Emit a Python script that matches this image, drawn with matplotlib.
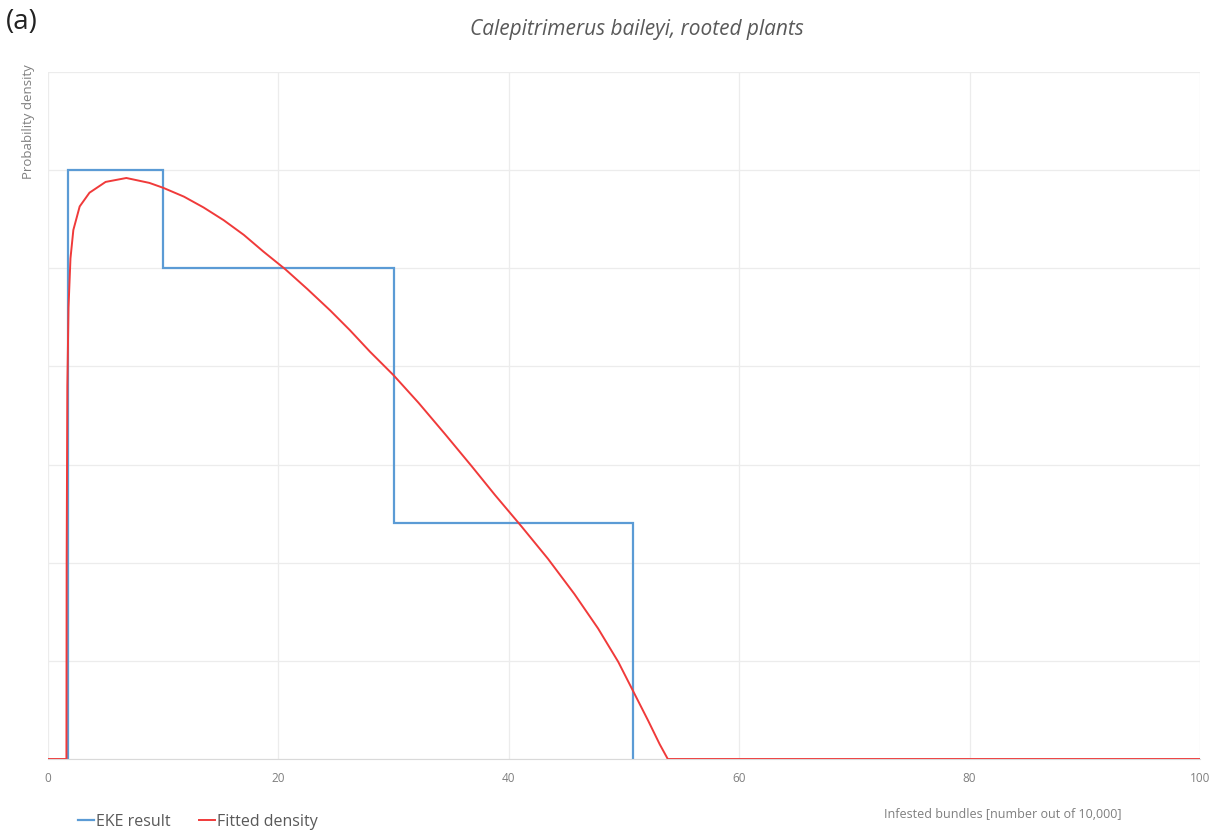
import numpy as np
import matplotlib
matplotlib.use("Agg")
import matplotlib.pyplot as plt

plt.rcParams['font.family'] = ['Open Sans', 'DejaVu Sans']

# EKE result (histogram bins)
eke_edges = [1.7, 10, 30, 50.8]
eke_heights = [6.0, 5.0, 2.4]

# Fitted density
fit_x = [0, 1.6, 1.62, 1.68, 1.78, 1.95, 2.2, 2.75, 3.6, 5.0, 6.8, 8.8, 10, 11.8,
         13.5, 15.25, 17.0, 18.7, 20.6, 22.5, 24.5, 26.2, 27.95, 30, 32.16, 34.47,
         36.8, 38.8, 41.1, 43.4, 45.7, 47.75, 49.5, 50.8, 52.1, 53.1, 53.8, 100]
fit_y = [0, 0, 2.0, 3.8, 4.6, 5.1, 5.39, 5.63, 5.77, 5.88, 5.92, 5.87, 5.82, 5.73,
         5.62, 5.49, 5.34, 5.17, 4.99, 4.79, 4.57, 4.37, 4.15, 3.91, 3.63, 3.31,
         2.98, 2.69, 2.37, 2.04, 1.68, 1.33, 0.99, 0.69, 0.39, 0.15, 0, 0]

x_ticks = [0, 20, 40, 60, 80, 100]
title = "Calepitrimerus baileyi, rooted plants"
x_label = "Infested bundles [number out of 10,000]"
y_label = "Probability density"
series_names = ["EKE result", "Fitted density"]

fig = plt.figure(figsize=(12.19, 8.36), dpi=100)
ax = fig.add_axes([48/1219, 1-759/836, (1200-48)/1219, (759-72)/836])

# step outline of EKE histogram
sx = [eke_edges[0]]
sy = [0]
for i, h in enumerate(eke_heights):
    sx += [eke_edges[i], eke_edges[i+1]]
    sy += [h, h]
sx.append(eke_edges[-1])
sy.append(0)

blue = '#5b9bd5'
red = '#f03a3a'
ax.plot(sx, sy, color=blue, lw=1.6, label=series_names[0], solid_joinstyle='miter')
ax.plot(fit_x, fit_y, color=red, lw=1.4, label=series_names[1])

ax.set_xlim(0, 100)
ax.set_ylim(0, 7)
ax.set_xticks(x_ticks)
ax.set_xticklabels([str(t) for t in x_ticks])
ax.set_yticks(np.arange(0, 8, 1))
ax.tick_params(axis='y', left=False, labelleft=False)
ax.tick_params(axis='x', length=0, labelsize=8.5, colors='#7f7f7f', pad=9)
ax.grid(True, color='#ececec', lw=0.9)
ax.set_axisbelow(True)
for s in ['top', 'right', 'left']:
    ax.spines[s].set_visible(False)
ax.spines['bottom'].set_color('#d9d9d9')

fig.text(637/1219, 1-30/836, title, ha='center', va='center', style='italic',
         fontsize=15, color='#595959')
fig.text(6/1219, 1-22/836, "(a)", ha='left', va='center', fontsize=20, color='#222222')
fig.text(29/1219, 1-122/836, y_label, rotation=90, ha='center', va='center',
         fontsize=9.5, color='#7f7f7f')
fig.text(1003/1219, 1-814/836, x_label, ha='center', va='center',
         fontsize=9, color='#7f7f7f')

leg = fig.legend(loc='center left', bbox_to_anchor=(78/1219, 1-822/836), ncol=2,
                 frameon=False, fontsize=11.5, handlelength=1.0, handletextpad=0.1,
                 columnspacing=1.8, borderaxespad=0, borderpad=0)
for t in leg.get_texts():
    t.set_color('#595959')

fig.savefig("out.png", dpi=100)
